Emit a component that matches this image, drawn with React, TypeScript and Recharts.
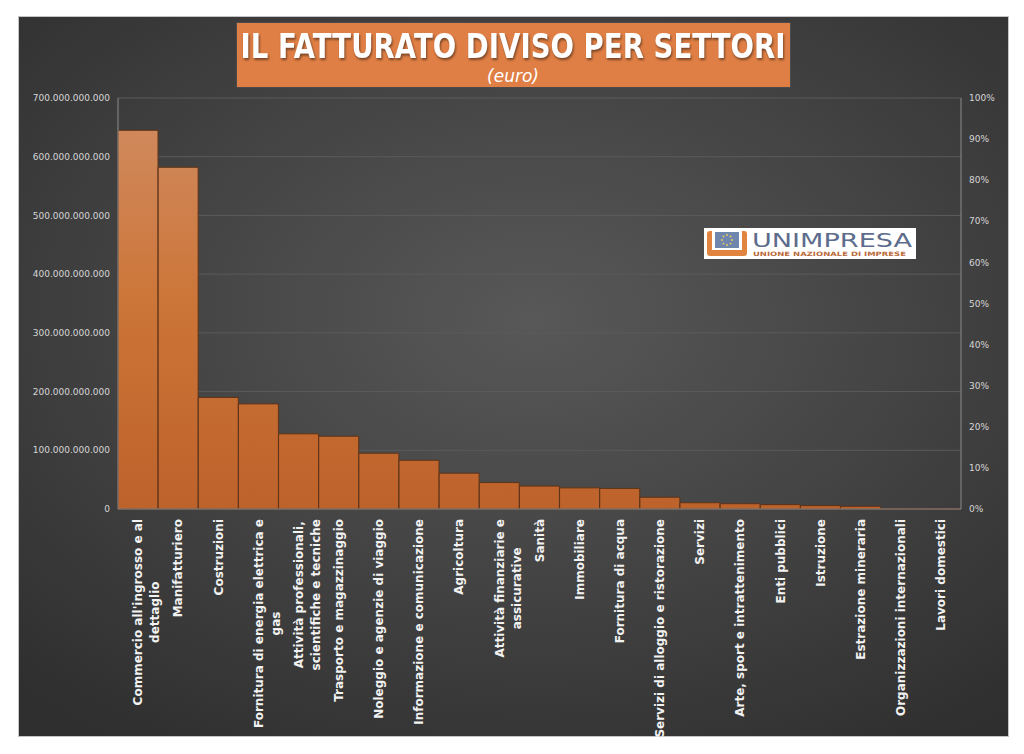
import { BarChart, Bar, XAxis, YAxis, CartesianGrid } from "recharts";

const CATEGORIES = [
  "Commercio all'ingrosso e al\ndettaglio",
  "Manifatturiero",
  "Costruzioni",
  "Fornitura di energia elettrica e\ngas",
  "Attività professionali,\nscientifiche e tecniche",
  "Trasporto e magazzinaggio",
  "Noleggio e agenzie di viaggio",
  "Informazione e comunicazione",
  "Agricoltura",
  "Attività finanziarie e\nassicurative",
  "Sanità",
  "Immobiliare",
  "Fornitura di acqua",
  "Servizi di alloggio e ristorazione",
  "Servizi",
  "Arte, sport e intrattenimento",
  "Enti pubblici",
  "Istruzione",
  "Estrazione mineraria",
  "Organizzazioni internazionali",
  "Lavori domestici",
];

// fatturato in euro
const FATTURATO = [
  645e9, 582e9, 190e9, 179e9, 128e9, 124e9, 95e9, 83e9, 61e9, 45e9, 39e9,
  36e9, 35e9, 20e9, 10.7e9, 9e9, 7.4e9, 5.7e9, 4.5e9, 0.3e9, 0.1e9,
];

const LEFT_TICKS = [0, 1e11, 2e11, 3e11, 4e11, 5e11, 6e11, 7e11];
const RIGHT_TICKS = [0, 10, 20, 30, 40, 50, 60, 70, 80, 90, 100];

const data = CATEGORIES.map((name, i) => ({ name, fatturato: FATTURATO[i] }));

const LABEL_FONT = "bold 12px 'DejaVu Sans'";
let ctx: CanvasRenderingContext2D | null = null;
function textWidth(s: string): number {
  if (!ctx) {
    ctx = document.createElement("canvas").getContext("2d");
    if (ctx) ctx.font = LABEL_FONT;
  }
  return ctx ? ctx.measureText(s).width : s.length * 7;
}

function fmtEuro(v: number): string {
  return String(Math.round(v)).replace(/\B(?=(\d{3})+(?!\d))/g, ".");
}

function XTick({ x, y, payload }: any) {
  const lines = String(payload.value).split("\n");
  const maxW = Math.max(...lines.map(textWidth));
  return (
    <g transform={`translate(${x},${y + 2})`}>
      <g transform="rotate(-90)">
        {lines.map((l, i) => (
          <text
            key={i}
            x={-maxW / 2}
            y={i * 17}
            dy="0.35em"
            textAnchor="middle"
            fill="#f2f2f2"
            style={{ font: LABEL_FONT }}
          >
            {l}
          </text>
        ))}
      </g>
    </g>
  );
}

function Logo() {
  return (
    <div
      style={{
        position: "absolute",
        left: 704,
        top: 228,
        width: 212,
        height: 31,
        background: "#ffffff",
      }}
    >
      <svg width={212} height={31}>
        <rect x={3} y={3} width={40} height={25} rx={3} fill="#e0843f" />
        <rect x={8} y={3} width={30} height={19} fill="#ffffff" />
        <rect x={11} y={4} width={24} height={16} fill="#6f86ad" />
        {[0, 1, 2, 3, 4, 5, 6, 7].map((k) => (
          <circle
            key={k}
            cx={23 + 5 * Math.cos((k * Math.PI) / 4)}
            cy={12 + 5 * Math.sin((k * Math.PI) / 4)}
            r={0.9}
            fill="#f5d35a"
          />
        ))}
        <text
          x={48}
          y={19}
          fill="#5d6c8c"
          textLength={160}
          lengthAdjust="spacingAndGlyphs"
          style={{ font: "20px 'DejaVu Sans'" }}
        >
          UNIMPRESA
        </text>
        <text
          x={49}
          y={28}
          fill="#b86a3a"
          textLength={153}
          lengthAdjust="spacingAndGlyphs"
          style={{ font: "bold 6px 'DejaVu Sans'" }}
        >
          UNIONE NAZIONALE DI IMPRESE
        </text>
      </svg>
    </div>
  );
}

export default function App() {
  return (
    <div
      style={{
        position: "absolute",
        left: 0,
        top: 0,
        width: 1024,
        height: 754,
        background: "#ffffff",
        overflow: "hidden",
      }}
    >
      <div
        style={{
          position: "absolute",
          left: 18,
          top: 16,
          width: 989,
          height: 719,
          border: "1px solid #c4c4c4",
          background:
            "radial-gradient(ellipse 75% 70% at 52% 42%, #585858 0%, #464646 45%, #2f2f2f 100%)",
        }}
      />
      <div
        style={{
          position: "absolute",
          left: 236,
          top: 22,
          width: 553,
          height: 64,
          background: "#df7f45",
          border: "1px solid #4a4a4a",
        }}
      >
        <svg width={553} height={64} style={{ overflow: "visible" }}>
          <text
            x={276}
            y={35}
            textAnchor="middle"
            fill="#ffffff"
            textLength={545}
            lengthAdjust="spacingAndGlyphs"
            style={{
              font: "bold 33px 'DejaVu Sans'",
              filter: "drop-shadow(1px 2px 1px rgba(0,0,0,0.45))",
            }}
          >
            IL FATTURATO DIVISO PER SETTORI
          </text>
          <text
            x={276}
            y={59}
            textAnchor="middle"
            fill="#ffffff"
            style={{ font: "italic 17px 'DejaVu Sans'" }}
          >
            (euro)
          </text>
        </svg>
      </div>
      <div style={{ position: "absolute", left: 0, top: 0 }}>
        <BarChart
          width={1024}
          height={754}
          data={data}
          margin={{ top: 98, right: 13, bottom: 15, left: 18 }}
          barCategoryGap={0}
        >
          <defs>
            <linearGradient
              id="barFill"
              gradientUnits="userSpaceOnUse"
              x1={0}
              y1={98}
              x2={0}
              y2={509}
            >
              <stop offset="0%" stopColor="#d18c62" />
              <stop offset="50%" stopColor="#cc7538" />
              <stop offset="100%" stopColor="#bd622b" />
            </linearGradient>
          </defs>
          <CartesianGrid
            yAxisId="left"
            vertical={false}
            stroke="#5b5b5b"
            strokeWidth={1}
          />
          <XAxis
            dataKey="name"
            interval={0}
            height={230}
            tickLine={false}
            axisLine={{ stroke: "#8c8c8c" }}
            tick={<XTick />}
          />
          <YAxis
            yAxisId="left"
            width={100}
            domain={[0, 7e11]}
            ticks={LEFT_TICKS}
            tickFormatter={fmtEuro}
            tickLine={false}
            axisLine={{ stroke: "#8c8c8c" }}
            tick={{ fill: "#d6d6d6", fontSize: 9, fontFamily: "DejaVu Sans" }}
          />
          <YAxis
            yAxisId="right"
            orientation="right"
            width={50}
            domain={[0, 100]}
            ticks={RIGHT_TICKS}
            allowDataOverflow
            tickFormatter={(v: number) => `${v}%`}
            tickLine={false}
            axisLine={{ stroke: "#8c8c8c" }}
            tick={{ fill: "#d6d6d6", fontSize: 9, fontFamily: "DejaVu Sans" }}
          />
          <Bar
            yAxisId="left"
            dataKey="fatturato"
            fill="url(#barFill)"
            stroke="#5e3317"
            strokeWidth={1}
            isAnimationActive={false}
          />
        </BarChart>
      </div>
      <Logo />
    </div>
  );
}
